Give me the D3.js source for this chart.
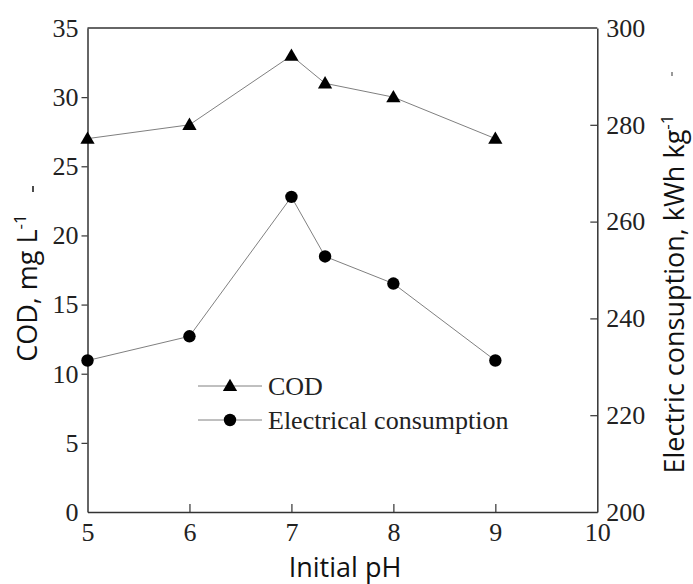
<!DOCTYPE html>
<html>
<head>
<meta charset="utf-8">
<script src="https://cdn.jsdelivr.net/npm/d3@7"></script>
<style>
  body { margin: 0; background: #fff; }
  .tick text { font-family: "Liberation Serif", "Times New Roman", serif; font-size: 26px; fill: #222; }
  .ttl { font-family: "Open Sans", "Noto Sans", sans-serif; font-size: 27px; fill: #111; }
</style>
</head>
<body>
<svg id="chart" width="693" height="584"></svg>
<script>
// data
var phValues = [5, 6, 7, 7.33, 8, 9];
var codValues = [27, 28, 33, 31, 30, 27];            // mg L-1, left axis
var elecValues = [231.3, 236.3, 265.1, 252.8, 247.2, 231.3]; // kWh kg-1, right axis
var xTicks = [5, 6, 7, 8, 9, 10];
var leftTicks = [0, 5, 10, 15, 20, 25, 30, 35];
var rightTicks = [200, 220, 240, 260, 280, 300];
var legendLabels = ['COD', 'Electrical consumption'];

var svg = d3.select('#chart');
var pLeft = 87.5, pRight = 597.3, pTop = 28, pBottom = 512;
var axisColor = '#333', lineColor = '#808080';
var fmt = d3.format('d');

var x = d3.scaleLinear().domain([5, 10]).range([pLeft, pRight]);
var yL = d3.scaleLinear().domain([0, 35]).range([pBottom, pTop]);
var yR = d3.scaleLinear().domain([200, 300]).range([pBottom, pTop]);

// top frame line
svg.append('line')
  .attr('x1', pLeft).attr('x2', pRight).attr('y1', pTop).attr('y2', pTop)
  .attr('stroke', axisColor).attr('stroke-width', 1.5);

var gx = svg.append('g').attr('transform', 'translate(0,' + pBottom + ')')
  .call(d3.axisBottom(x).tickValues(xTicks).tickFormat(fmt).tickSizeInner(-8).tickSizeOuter(0).tickPadding(11));
gx.selectAll('.tick text').attr('dy', '0.71em');

var gl = svg.append('g').attr('transform', 'translate(' + pLeft + ',0)')
  .call(d3.axisLeft(yL).tickValues(leftTicks).tickFormat(fmt).tickSizeInner(6).tickSizeOuter(0).tickPadding(3));

var gr = svg.append('g').attr('transform', 'translate(' + pRight + ',0)')
  .call(d3.axisRight(yR).tickValues(rightTicks).tickFormat(fmt).tickSizeInner(-7).tickSizeOuter(0).tickPadding(9));

svg.selectAll('.domain').attr('stroke', axisColor).attr('stroke-width', 1.5);
svg.selectAll('.tick line').attr('stroke', axisColor).attr('stroke-width', 1.2);
svg.selectAll('.tick text').attr('fill', '#222');
// end ticks sit on the frame
gx.selectAll('.tick line').filter(function(d) { return d === 5 || d === 10; }).remove();
gl.selectAll('.tick line').filter(function(d) { return d === 0 || d === 35; }).remove();
gr.selectAll('.tick line').filter(function(d) { return d === 200 || d === 300; }).remove();

var tri = d3.symbol().type(d3.symbolTriangle).size(88);

// COD series
var codPts = phValues.map(function(p, i) { return [x(p), yL(codValues[i])]; });
svg.append('path').attr('d', d3.line()(codPts))
  .attr('fill', 'none').attr('stroke', lineColor).attr('stroke-width', 1);
svg.selectAll('.tri').data(codPts).enter().append('path')
  .attr('d', tri).attr('transform', function(d) { return 'translate(' + d[0] + ',' + (d[1] + 1) + ')'; })
  .attr('fill', '#000');

// electrical consumption series
var elPts = phValues.map(function(p, i) { return [x(p), yR(elecValues[i])]; });
svg.append('path').attr('d', d3.line()(elPts))
  .attr('fill', 'none').attr('stroke', lineColor).attr('stroke-width', 1);
svg.selectAll('.dot').data(elPts).enter().append('circle')
  .attr('cx', function(d) { return d[0]; }).attr('cy', function(d) { return d[1]; })
  .attr('r', 6.2).attr('fill', '#000');

// legend
var leg = svg.append('g').attr('transform', 'translate(198,386)');
legendLabels.forEach(function(lab, i) {
  var g = leg.append('g').attr('transform', 'translate(0,' + i * 34 + ')');
  g.append('line').attr('x1', 0).attr('x2', 64).attr('y1', 0).attr('y2', 0)
    .attr('stroke', lineColor).attr('stroke-width', 1);
  if (i === 0) g.append('path').attr('d', tri).attr('transform', 'translate(32,1)').attr('fill', '#000');
  else g.append('circle').attr('cx', 32).attr('cy', 0).attr('r', 6.2).attr('fill', '#000');
  g.append('text').attr('x', 70).attr('y', 0).attr('dy', '0.33em')
    .attr('font-family', '"Liberation Serif", "Times New Roman", serif')
    .attr('font-size', 26).attr('fill', '#222').text(lab);
});

// axis titles
svg.append('text').attr('class', 'ttl').attr('text-anchor', 'middle')
  .attr('x', 345).attr('y', 577).text('Initial pH');

var lt = svg.append('text').attr('class', 'ttl').attr('text-anchor', 'middle')
  .attr('transform', 'translate(37,288) rotate(-90)');
lt.append('tspan').text('COD, mg L');
lt.append('tspan').attr('dy', -11).attr('font-size', 17).text('-1');

var rt = svg.append('text').attr('class', 'ttl').attr('text-anchor', 'middle')
  .attr('transform', 'translate(684,294) rotate(-90)');
rt.append('tspan').text('Electric consuption, kWh kg');
rt.append('tspan').attr('dy', -11).attr('font-size', 17).text('-1');

// small leftover marks next to the titles in the source image
svg.append('line').attr('x1', 33).attr('x2', 33).attr('y1', 186).attr('y2', 192)
  .attr('stroke', '#111').attr('stroke-width', 1.5);
svg.append('line').attr('x1', 672).attr('x2', 672).attr('y1', 72).attr('y2', 76)
  .attr('stroke', '#555').attr('stroke-width', 1.2);
</script>
</body>
</html>
